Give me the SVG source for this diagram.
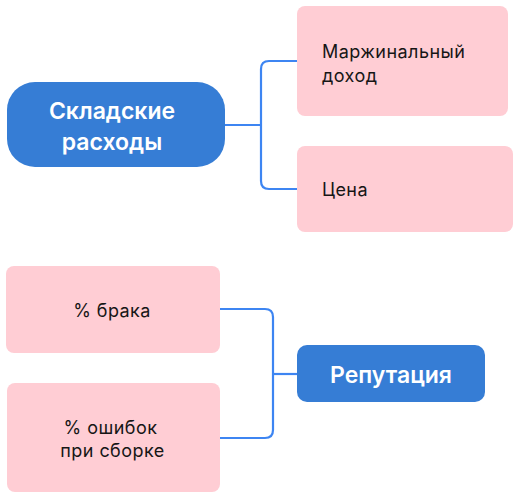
<svg xmlns="http://www.w3.org/2000/svg" width="520" height="499" viewBox="0 0 520 499">
<style>
.main rect{fill:#367dd5}
.main text{fill:#fff;font-family:Inter,"Noto Sans",sans-serif;font-weight:600;font-size:23px;text-anchor:middle}
.leaf rect{fill:#ffcdd4}
.leaf text{fill:#161616;font-family:Inter,"Noto Sans",sans-serif;font-weight:400;font-size:18px;letter-spacing:0.45px}
.conn path{fill:none;stroke:#3d85f2;stroke-width:2.2}
</style>
<rect width="520" height="499" fill="#fff"/>
<g class="conn">
<path d="M225 125 H261"/>
<path d="M297 61 H269 Q261 61 261 69 V181 Q261 189 269 189 H297"/>
<path d="M220 309 H265 Q273 309 273 317 V430 Q273 438 265 438 H220"/>
<path d="M273 374 H297"/>
</g>
<g id="n1" class="main">
<rect x="7" y="82" width="218" height="85" rx="28"/>
<text x="112" y="119">Складские</text>
<text x="112" y="150">расходы</text>
</g>
<g id="n2" class="leaf">
<rect x="297" y="6" width="211" height="110" rx="8"/>
<text x="322" y="58">Маржинальный</text>
<text x="322" y="81.5">доход</text>
</g>
<g id="n3" class="leaf">
<rect x="297" y="146" width="216" height="86" rx="8"/>
<text x="322" y="196">Цена</text>
</g>
<g id="n4" class="leaf">
<rect x="6" y="266" width="214" height="87" rx="8"/>
<text x="112" y="317" text-anchor="middle">% брака</text>
</g>
<g id="n5" class="leaf">
<rect x="7" y="383" width="213" height="109" rx="8"/>
<text x="110.5" y="434" text-anchor="middle">% ошибок</text>
<text x="112.5" y="457" text-anchor="middle">при сборке</text>
</g>
<g id="n6" class="main">
<rect x="297" y="345" width="188" height="57" rx="10"/>
<text x="391" y="383">Репутация</text>
</g>
</svg>
